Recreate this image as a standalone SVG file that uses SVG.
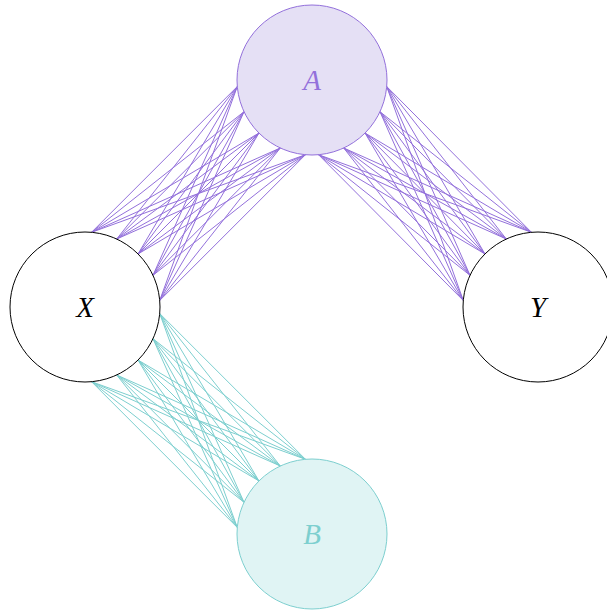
<svg xmlns="http://www.w3.org/2000/svg" width="607" height="610" viewBox="0 0 607 610">
<style>
.p{stroke:#9370DB;stroke-width:1;fill:none}
.t{stroke:#7DCFCF;stroke-width:1;fill:none}
.lbl{font-family:"Liberation Serif","DejaVu Serif",serif;font-style:italic;font-size:29px;text-anchor:middle}
</style>
<rect width="607" height="610" fill="#ffffff"/>
<g id="connectors">
<path class="p" d="M159.71,300.46L237.29,86.54M159.71,300.46L244.03,111.70M159.71,300.46L258.97,133.03M159.71,300.46L280.30,147.97M159.71,300.46L305.46,154.71"/>
<path class="p" d="M152.97,275.30L237.29,86.54M152.97,275.30L244.03,111.70M152.97,275.30L258.97,133.03M152.97,275.30L280.30,147.97M152.97,275.30L305.46,154.71"/>
<path class="p" d="M138.03,253.97L237.29,86.54M138.03,253.97L244.03,111.70M138.03,253.97L258.97,133.03M138.03,253.97L280.30,147.97M138.03,253.97L305.46,154.71"/>
<path class="p" d="M116.70,239.03L237.29,86.54M116.70,239.03L244.03,111.70M116.70,239.03L258.97,133.03M116.70,239.03L280.30,147.97M116.70,239.03L305.46,154.71"/>
<path class="p" d="M91.54,232.29L237.29,86.54M91.54,232.29L244.03,111.70M91.54,232.29L258.97,133.03M91.54,232.29L280.30,147.97M91.54,232.29L305.46,154.71"/>
<path class="p" d="M531.46,232.29L318.54,154.71M531.46,232.29L343.70,147.97M531.46,232.29L365.03,133.03M531.46,232.29L379.97,111.70M531.46,232.29L386.71,86.54"/>
<path class="p" d="M506.30,239.03L318.54,154.71M506.30,239.03L343.70,147.97M506.30,239.03L365.03,133.03M506.30,239.03L379.97,111.70M506.30,239.03L386.71,86.54"/>
<path class="p" d="M484.97,253.97L318.54,154.71M484.97,253.97L343.70,147.97M484.97,253.97L365.03,133.03M484.97,253.97L379.97,111.70M484.97,253.97L386.71,86.54"/>
<path class="p" d="M470.03,275.30L318.54,154.71M470.03,275.30L343.70,147.97M470.03,275.30L365.03,133.03M470.03,275.30L379.97,111.70M470.03,275.30L386.71,86.54"/>
<path class="p" d="M463.29,300.46L318.54,154.71M463.29,300.46L343.70,147.97M463.29,300.46L365.03,133.03M463.29,300.46L379.97,111.70M463.29,300.46L386.71,86.54"/>
<path class="t" d="M91.54,381.71L305.46,459.29M91.54,381.71L280.30,466.03M91.54,381.71L258.97,480.97M91.54,381.71L244.03,502.30M91.54,381.71L237.29,527.46"/>
<path class="t" d="M116.70,374.97L305.46,459.29M116.70,374.97L280.30,466.03M116.70,374.97L258.97,480.97M116.70,374.97L244.03,502.30M116.70,374.97L237.29,527.46"/>
<path class="t" d="M138.03,360.03L305.46,459.29M138.03,360.03L280.30,466.03M138.03,360.03L258.97,480.97M138.03,360.03L244.03,502.30M138.03,360.03L237.29,527.46"/>
<path class="t" d="M152.97,338.70L305.46,459.29M152.97,338.70L280.30,466.03M152.97,338.70L258.97,480.97M152.97,338.70L244.03,502.30M152.97,338.70L237.29,527.46"/>
<path class="t" d="M159.71,313.54L305.46,459.29M159.71,313.54L280.30,466.03M159.71,313.54L258.97,480.97M159.71,313.54L244.03,502.30M159.71,313.54L237.29,527.46"/>
</g>
<g id="A">
<circle cx="312" cy="80" r="75" fill="#E5E0F5" stroke="#9370DB" stroke-width="1"/>
<text class="lbl" x="312" y="90" fill="#9370DB">A</text>
</g>
<g id="X">
<circle cx="85" cy="307" r="75" fill="#ffffff" stroke="#000000" stroke-width="1"/>
<text class="lbl" x="85" y="317" fill="#000000">X</text>
</g>
<g id="Y">
<circle cx="538" cy="307" r="75" fill="#ffffff" stroke="#000000" stroke-width="1"/>
<text class="lbl" x="538" y="317" fill="#000000">Y</text>
</g>
<g id="B">
<circle cx="312" cy="534" r="75" fill="#E0F4F4" stroke="#7DCFCF" stroke-width="1"/>
<text class="lbl" x="312" y="544" fill="#7DCFCF">B</text>
</g>
</svg>
